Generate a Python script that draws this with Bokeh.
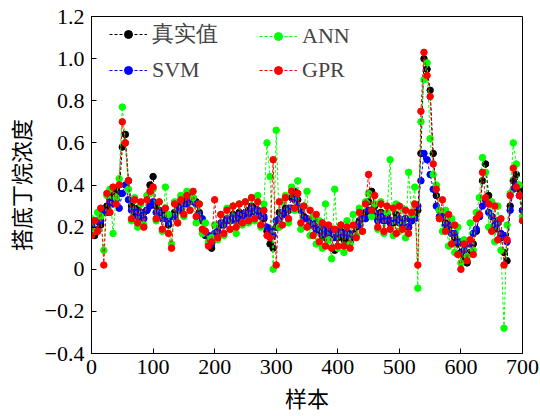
from bokeh.plotting import figure
from bokeh.models import Range1d, FixedTicker, CustomJSTickFormatter, Legend, LegendItem
from bokeh.embed import file_html
from bokeh.resources import INLINE

# sample index (every 5th sample)
samples = list(range(0, 701, 5))

true_vals = [
    0.20, 0.16, 0.23, 0.21, 0.27, 0.30, 0.36, 0.34, 0.38, 0.36,
    0.58, 0.64, 0.42, 0.30, 0.27, 0.29, 0.25, 0.27, 0.28, 0.40,
    0.44, 0.30, 0.28, 0.24, 0.26, 0.21, 0.25, 0.27, 0.30, 0.28,
    0.32, 0.33, 0.35, 0.34, 0.32, 0.27, 0.23, 0.16, 0.12, 0.10,
    0.14, 0.18, 0.21, 0.22, 0.24, 0.23, 0.26, 0.23, 0.27, 0.26,
    0.27, 0.28, 0.30, 0.29, 0.28, 0.27, 0.24, 0.18, 0.12, 0.10,
    0.20, 0.27, 0.26, 0.29, 0.28, 0.34, 0.37, 0.33, 0.28, 0.25,
    0.24, 0.21, 0.22, 0.19, 0.18, 0.16, 0.15, 0.17, 0.15, 0.09,
    0.15, 0.18, 0.14, 0.17, 0.13, 0.17, 0.20, 0.23, 0.24, 0.27,
    0.32, 0.37, 0.30, 0.24, 0.27, 0.23, 0.26, 0.23, 0.22, 0.26,
    0.22, 0.23, 0.24, 0.20, 0.23, 0.25, 0.28, 0.55, 1.00, 0.95,
    0.85, 0.55, 0.35, 0.28, 0.25, 0.22, 0.20, 0.17, 0.15, 0.12,
    0.08, 0.05, 0.03, 0.08, 0.12, 0.18, 0.25, 0.42, 0.50, 0.35,
    0.25, 0.19, 0.23, 0.15, 0.08, 0.04, 0.30, 0.42, 0.45, 0.38,
    0.28,
]

svm_vals = [
    0.21, 0.19, 0.23, 0.23, 0.27, 0.27, 0.32, 0.31, 0.33, 0.29,
    0.36, 0.40, 0.33, 0.28, 0.28, 0.25, 0.27, 0.24, 0.28, 0.30,
    0.32, 0.27, 0.27, 0.24, 0.25, 0.22, 0.25, 0.25, 0.29, 0.28,
    0.31, 0.31, 0.34, 0.32, 0.31, 0.26, 0.24, 0.17, 0.16, 0.12,
    0.17, 0.18, 0.22, 0.21, 0.24, 0.23, 0.25, 0.23, 0.26, 0.25,
    0.27, 0.26, 0.29, 0.27, 0.28, 0.25, 0.25, 0.20, 0.19, 0.16,
    0.23, 0.24, 0.27, 0.26, 0.29, 0.29, 0.33, 0.30, 0.28, 0.24,
    0.24, 0.21, 0.22, 0.19, 0.20, 0.17, 0.19, 0.16, 0.19, 0.15,
    0.18, 0.17, 0.17, 0.16, 0.17, 0.16, 0.21, 0.21, 0.24, 0.24,
    0.28, 0.27, 0.27, 0.23, 0.26, 0.23, 0.25, 0.22, 0.23, 0.23,
    0.24, 0.21, 0.24, 0.20, 0.23, 0.24, 0.30, 0.42, 0.55, 0.52,
    0.45, 0.38, 0.30, 0.25, 0.25, 0.21, 0.21, 0.17, 0.17, 0.13,
    0.13, 0.09, 0.12, 0.12, 0.17, 0.19, 0.25, 0.30, 0.33, 0.27,
    0.25, 0.21, 0.22, 0.17, 0.16, 0.13, 0.28, 0.38, 0.40, 0.35,
    0.28,
]

ann_vals = [
    0.24, 0.18, 0.27, 0.25, 0.09, 0.35, 0.38, 0.17, 0.34, 0.43,
    0.77, 0.60, 0.38, 0.23, 0.34, 0.20, 0.31, 0.21, 0.35, 0.36,
    0.38, 0.23, 0.32, 0.18, 0.39, 0.26, 0.12, 0.32, 0.22, 0.35,
    0.25, 0.37, 0.28, 0.34, 0.22, 0.31, 0.17, 0.22, 0.13, 0.15,
    0.21, 0.14, 0.26, 0.16, 0.29, 0.19, 0.30, 0.17, 0.31, 0.21,
    0.32, 0.22, 0.34, 0.23, 0.35, 0.20, 0.31, 0.60, 0.44, 0.00,
    0.66, 0.20, 0.32, 0.35, 0.22, 0.39, 0.28, 0.42, 0.19, 0.30,
    0.37, 0.16, 0.25, 0.12, 0.23, 0.10, 0.31, 0.14, 0.05, 0.38,
    0.10, 0.21, 0.08, 0.23, 0.12, 0.26, 0.16, 0.29, 0.18, 0.32,
    0.36, 0.25, 0.31, 0.19, 0.32, 0.17, 0.27, 0.52, 0.16, 0.31,
    0.18, 0.29, 0.15, 0.46, 0.26, 0.39, -0.09, 0.70, 0.90, 0.98,
    0.62, 0.45, 0.40, 0.28, 0.18, 0.28, 0.11, 0.24, 0.08, 0.20,
    0.03, 0.14, 0.06, 0.22, 0.09, 0.27, 0.34, 0.53, 0.46, 0.20,
    0.32, 0.13, 0.30, 0.09, -0.28, 0.21, 0.36, 0.60, 0.50, 0.40,
    0.25,
]

gpr_vals = [
    0.16, 0.23, 0.18, 0.29, 0.02, 0.36, 0.27, 0.39, 0.31, 0.40,
    0.70, 0.60, 0.42, 0.24, 0.33, 0.22, 0.32, 0.20, 0.33, 0.37,
    0.39, 0.24, 0.32, 0.19, 0.29, 0.17, 0.10, 0.31, 0.22, 0.33,
    0.26, 0.35, 0.28, 0.37, 0.25, 0.31, 0.19, 0.18, 0.11, 0.13,
    0.33, 0.15, 0.26, 0.17, 0.28, 0.19, 0.30, 0.20, 0.31, 0.22,
    0.32, 0.23, 0.34, 0.24, 0.32, 0.21, 0.28, 0.16, 0.15, 0.52,
    0.02, 0.32, 0.21, 0.34, 0.24, 0.37, 0.29, 0.36, 0.22, 0.30,
    0.20, 0.28, 0.16, 0.26, 0.13, 0.22, 0.11, 0.21, 0.10, 0.19,
    0.11, 0.21, 0.11, 0.20, 0.10, 0.21, 0.15, 0.27, 0.18, 0.31,
    0.45, 0.28, 0.35, 0.20, 0.31, 0.18, 0.30, 0.19, 0.29, 0.17,
    0.30, 0.19, 0.28, 0.17, 0.27, 0.31, 0.02, 0.75, 1.03, 0.92,
    0.82, 0.50, 0.38, 0.24, 0.33, 0.18, 0.26, 0.12, 0.21, 0.07,
    0.00, 0.12, 0.04, 0.14, 0.07, 0.24, 0.26, 0.46, 0.34, 0.31,
    0.18, 0.30, 0.14, 0.24, 0.02, 0.14, 0.35, 0.48, 0.39, 0.35,
    0.23,
]

series = [
    ("真实值", true_vals, "#000000"),
    ("SVM", svm_vals, "#0000FF"),
    ("ANN", ann_vals, "#00FF00"),
    ("GPR", gpr_vals, "#FF0000"),
]

x_ticks = [0, 100, 200, 300, 400, 500, 600, 700]
y_ticks = [-0.4, -0.2, 0.0, 0.2, 0.4, 0.6, 0.8, 1.0, 1.2]

SERIF = "Liberation Serif"
CJK = "Noto Sans CJK SC"

p = figure(width=540, height=416, output_backend="svg", toolbar_location=None,
           x_range=Range1d(0, 700), y_range=Range1d(-0.4, 1.2),
           min_border_left=89, min_border_right=18, min_border_top=16, min_border_bottom=63)
p.background_fill_color = "white"
p.border_fill_color = "white"
p.outline_line_color = "black"
p.outline_line_width = 1
p.grid.visible = False

items = {}
for name, vals, col in series:
    r1 = p.line(samples, vals, line_color=col, line_width=1, line_dash="3 2")
    r2 = p.scatter(samples, vals, size=6.5, fill_color=col, line_color=col)
    items[name] = [r1, r2]


def make_legend(names, loc):
    lg = Legend(items=[LegendItem(label=n, renderers=items[n]) for n in names],
                location=loc, orientation="vertical")
    lg.background_fill_alpha = 0
    lg.border_line_alpha = 0
    lg.label_text_font = SERIF
    lg.label_text_font_size = "22px"
    lg.glyph_width = 38
    lg.label_standoff = 5
    lg.spacing = 8
    lg.margin = 0
    lg.padding = 6
    return lg


p.add_layout(make_legend(["真实值", "SVM"], (12, 264)))
p.add_layout(make_legend(["ANN", "GPR"], (162, 264)))

for ax in (p.xaxis[0], p.yaxis[0]):
    ax.major_tick_in = 5
    ax.major_tick_out = 0
    ax.minor_tick_line_color = None
    ax.axis_line_color = "black"
    ax.major_label_text_font = SERIF
    ax.major_label_text_font_size = "22px"
    ax.major_label_text_color = "black"
    ax.axis_label_text_font = CJK
    ax.axis_label_text_font_size = "22px"
    ax.axis_label_text_font_style = "normal"
    ax.axis_label_text_color = "black"

p.xaxis.ticker = FixedTicker(ticks=x_ticks)
p.yaxis.ticker = FixedTicker(ticks=y_ticks)
p.yaxis.formatter = CustomJSTickFormatter(code="""
if (Math.abs(tick) < 1e-9) { return "0"; }
return tick.toFixed(1).replace("-", "\u2212");
""")
p.xaxis.axis_label = "样本"
p.yaxis.axis_label = "搭底丁烷浓度"
p.xaxis.major_label_standoff = 6
p.yaxis.major_label_standoff = 7
p.xaxis.axis_label_standoff = 4
p.yaxis.axis_label_standoff = 6

open("out.html", "w").write(file_html(p, INLINE))
